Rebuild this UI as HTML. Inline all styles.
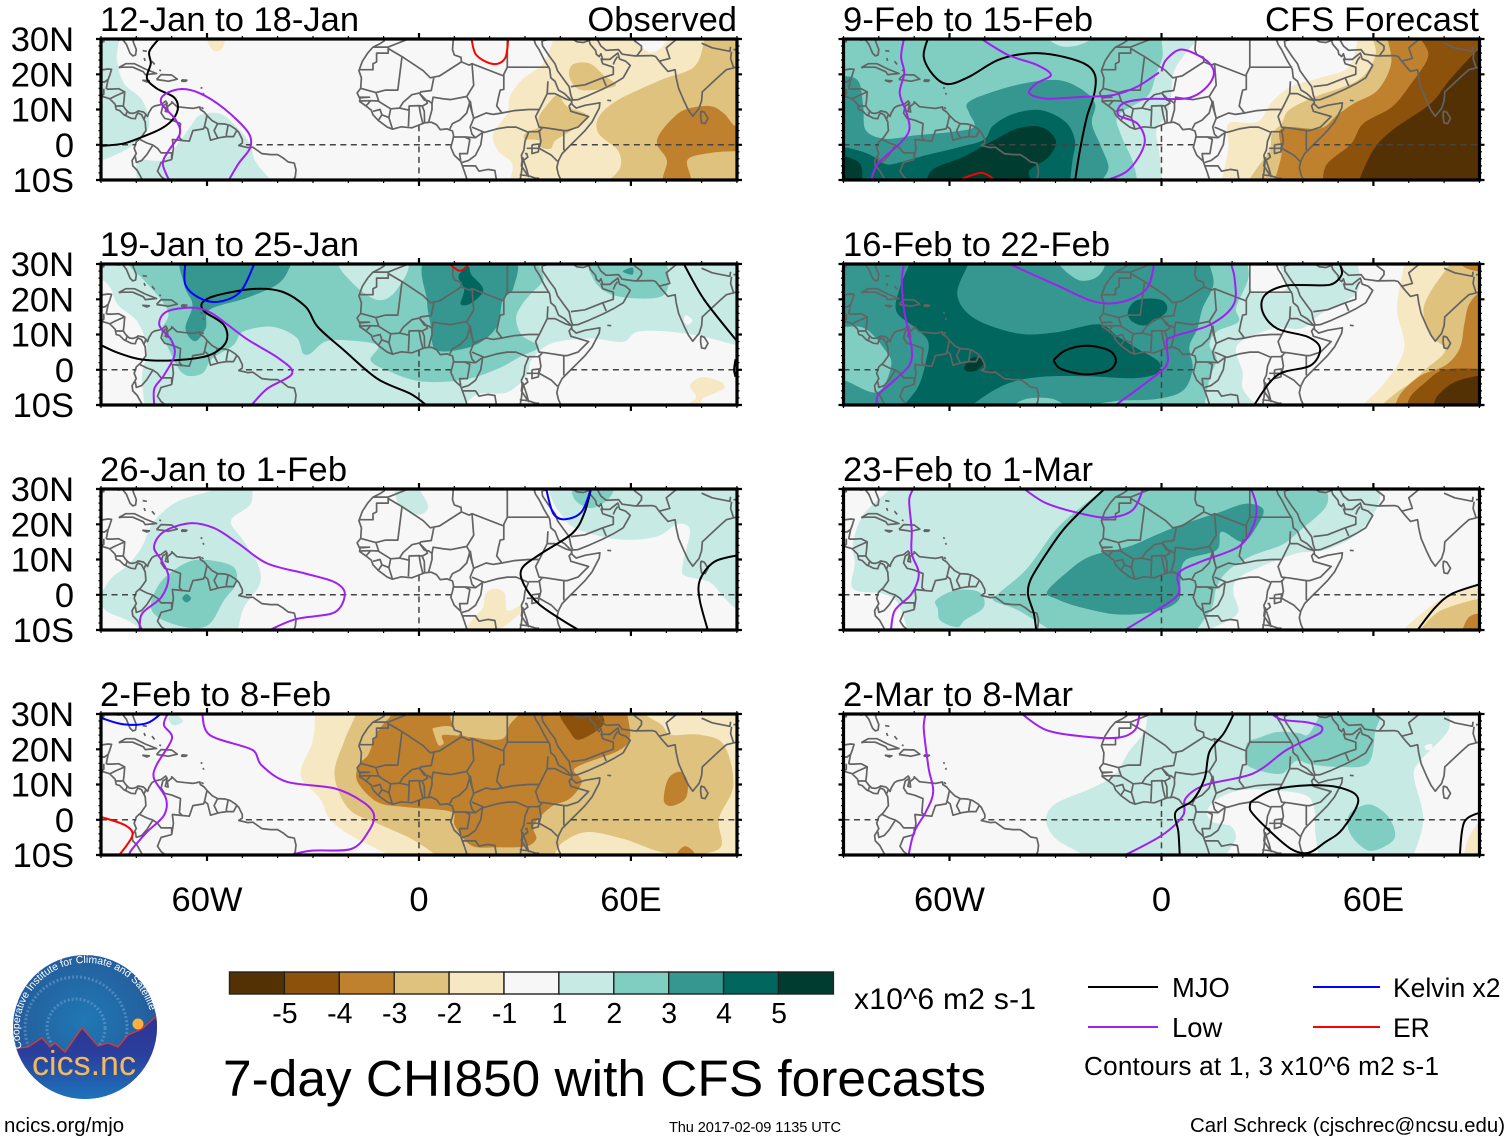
<!DOCTYPE html>
<html lang="en">
<head>
<meta charset="utf-8">
<title>7-day CHI850 with CFS forecasts</title>
<style>
html,body{margin:0;padding:0;background:#fff;}
svg{display:block;font-family:"Liberation Sans",sans-serif;font-kerning:none;}
</style>
</head>
<body>
<svg id="chart" xmlns="http://www.w3.org/2000/svg" width="1510" height="1142" viewBox="0 0 1510 1142">
<rect width="1510" height="1142" fill="#fff"/>
<defs id="defs">
<radialGradient id="logoSky" cx="50%" cy="45%" r="60%"><stop offset="0" stop-color="#1f78b4"/><stop offset="0.7" stop-color="#24619f"/><stop offset="1" stop-color="#2b4f9c"/></radialGradient>
<linearGradient id="logoLand" x1="0" y1="0" x2="0" y2="1"><stop offset="0" stop-color="#2e3192"/><stop offset="0.45" stop-color="#2a3f9c"/><stop offset="1" stop-color="#1b7ac0"/></linearGradient>
<clipPath id="logoClip"><circle cx="85" cy="1027" r="72"/></clipPath>
</defs>
<g id="panels"></g>

<g font-size="34.5" fill="#000">
<text x="100" y="31" textLength="259">12-Jan to 18-Jan</text>
<text x="737" y="31" text-anchor="end">Observed</text>
<text x="100" y="256" textLength="259">19-Jan to 25-Jan</text>
<text x="100" y="481" textLength="247">26-Jan to 1-Feb</text>
<text x="100" y="706" textLength="231">2-Feb to 8-Feb</text>
<text x="843" y="31" textLength="250">9-Feb to 15-Feb</text>
<text x="1265" y="31" textLength="214">CFS Forecast</text>
<text x="843" y="256" textLength="267">16-Feb to 22-Feb</text>
<text x="843" y="481" textLength="250">23-Feb to 1-Mar</text>
<text x="843" y="706" textLength="230">2-Mar to 8-Mar</text>
</g>

<g id="colorbar"></g>
<text x="854" y="1009" font-size="29.9" textLength="182">x10^6 m2 s-1</text>
<text x="223" y="1096" font-size="51.4" textLength="763">7-day CHI850 with CFS forecasts</text>

<g font-size="27.4">
<line x1="1088" x2="1158" y1="987" y2="987" stroke="#000" stroke-width="2"/>
<text x="1172" y="997">MJO</text>
<line x1="1088" x2="1158" y1="1027" y2="1027" stroke="#a020f0" stroke-width="2"/>
<text x="1172" y="1037">Low</text>
<line x1="1313" x2="1380" y1="987" y2="987" stroke="#0000ff" stroke-width="2"/>
<text x="1393" y="997" font-size="26.5">Kelvin x2</text>
<line x1="1313" x2="1380" y1="1027" y2="1027" stroke="#ff0000" stroke-width="2"/>
<text x="1393" y="1037" font-size="26.5">ER</text>
<text x="1084" y="1075" font-size="26.1" textLength="355">Contours at 1, 3 x10^6 m2 s-1</text>
</g>

<text x="4" y="1132" font-size="20.4">ncics.org/mjo</text>
<text x="669" y="1132" font-size="14.6" textLength="172">Thu 2017-02-09 1135 UTC</text>
<text x="1190" y="1132" font-size="20.4" textLength="315">Carl Schreck (cjschrec@ncsu.edu)</text>

<g>
<circle cx="85" cy="1027" r="72" fill="url(#logoSky)"/>
<g clip-path="url(#logoClip)">
<circle cx="76" cy="1028" r="51" fill="none" stroke="#6fa3d6" stroke-width="3" stroke-dasharray="2 2" opacity=".55"/>
<circle cx="76" cy="1028" r="29" fill="none" stroke="#6fa3d6" stroke-width="3" stroke-dasharray="2 2" opacity=".55"/>
<circle cx="138" cy="1024" r="5.5" fill="#fbb040"/>
<path d="M10 1050L18 1048L28 1047L42 1038L50 1047L55 1043L65 1052L82 1028L98 1046L108 1043L118 1047L128 1035L142 1029L160 1013L160 1105L10 1105Z" fill="url(#logoLand)"/>
<path d="M10 1050L18 1048L28 1047L42 1038L50 1047L55 1043L65 1052L82 1028L98 1046L108 1043L118 1047L128 1035L142 1029L160 1013" fill="none" stroke="#e5352b" stroke-width="1.3"/>
</g>
<path id="logoArc" d="M22 1048 A66 66 0 1 1 150 1011" fill="none"/>
<text font-size="10.4" fill="#fff"><textPath href="#logoArc">Cooperative Institute for Climate and Satellites</textPath></text>
<text x="84" y="1075" font-size="34" fill="#f3b95f" text-anchor="middle">cics.nc</text>
</g>
</svg>

<script>
/* ---------- scale data ---------- */
const levelColors = {'-5':'#543005','-4':'#8c510a','-3':'#bf812d','-2':'#dfc27d','-1':'#f6e8c3','0':'#f7f7f7','1':'#c7eae5','2':'#80cdc1','3':'#35978f','4':'#01665e','5':'#003c30'};
const colorbarLevels = [-5,-4,-3,-2,-1,0,1,2,3,4,5];
const colorbarLabels = ['-5','-4','-3','-2','-1','1','2','3','4','5'];
const lonTicks = [-60,0,60];
const lonLabels = ['60W','0','60E'];
const latTicks = [30,20,10,0,-10];
const latLabels = ['30N','20N','10N','0','10S'];
const lineColors = {mjo:'#000000',low:'#a020f0',kelvin:'#0000ff',er:'#ff0000'};
const equatorOcean = [[-90,-80],[-49,9],[43,90]];
const meridianSpan = [5.5,-10];

/* ---------- coastlines (lon,lat) ---------- */
const coastlines = [
[[-90,29.2],[-89.2,29.2],[-89.3,30.2],[-87,30.3],[-85,29.7],[-84,30],[-82.8,28.5],[-81.8,26],[-81,25.2],[-80.2,25.5],[-80,27],[-80.8,29],[-81.3,31]],
[[-90,21.2],[-88,21.5],[-87,21.4],[-87.6,19.5],[-88,18.5],[-88.5,16],[-88.2,15.8],[-87,15.8],[-85,15.9],[-83.3,15],[-83.5,12.5],[-83.7,11],[-83,10],[-82,9],[-81,8.9],[-80,9.2],[-79.5,9.6],[-78,9.3],[-77.3,8.6],[-76.8,8],[-76.5,9],[-75.6,10.5],[-74.8,11],[-73,11.4],[-71.7,12.4],[-71.3,11.8],[-71.5,10.8],[-71.8,9.5],[-71,9.3],[-71.2,10.8],[-70,11.8],[-70,12.2],[-68.5,10.8],[-66,10.5],[-64,10.3],[-62,10.7],[-61.9,10],[-60.8,9.3],[-60,8.3],[-58.5,6.8],[-57,6],[-55,5.9],[-53.5,5.5],[-52,4.5],[-51,3.5],[-50,1.5],[-50,0.5],[-51,-0.2],[-48.5,-0.8],[-47,-0.7],[-44.5,-2.5],[-42,-2.8],[-40,-2.8],[-38.5,-3.7],[-37,-4.9],[-35.3,-5.2],[-34.8,-7.2],[-35,-9],[-35.7,-10.5]],
[[-91,14],[-90,13.8],[-88,13.2],[-87.5,13],[-86,11.5],[-85.7,10],[-84.7,9.7],[-83.5,8.5],[-82.9,8.2],[-81.5,7.5],[-80.3,7.4],[-80,8.3],[-79.5,9],[-78.5,8.5],[-78,7.5],[-77.5,6.5],[-77.3,4],[-78.7,2],[-80,0.8],[-80.6,-1],[-80,-2.5],[-81.2,-4.5],[-81,-6],[-79.8,-7.2],[-78.8,-9],[-78,-10.5]],
[[-85,21.9],[-83,23],[-80.5,23],[-77.5,21.5],[-74.3,20.2],[-77.5,19.9],[-78,20.7],[-81,22],[-84,22],[-85,21.9]],
[[-74.3,18.5],[-73,19.9],[-70,19.8],[-68.4,18.6],[-71,18],[-72,18.2],[-74.3,18.5]],
[[-78.3,18.3],[-76.3,18.1],[-77,17.8],[-78.3,18.3]],
[[-67.2,18.4],[-65.7,18.3],[-66,18],[-67.1,18],[-67.2,18.4]],
[[-78.2,26.7],[-77,26.5]],[[-77.8,24.6],[-77.5,23.8]],[[-75.6,23.7],[-74.8,22.8]],[[-73.5,21.2],[-73,21]],
[[-61.8,16.2],[-61.3,16]],[[-61.1,14.7],[-60.9,14.2]],[[-61.6,10.6],[-61,10.2]],
[[-9.8,31],[-9.8,29.5],[-11,28.7],[-13,27.7],[-14.5,26],[-16,23.7],[-17,21],[-16.3,19],[-16.5,16],[-17.5,14.7],[-16.7,13],[-16.8,12.3],[-15,11],[-13.5,9.8],[-13,8.5],[-11.5,6.9],[-9,5],[-7.5,4.4],[-5,5.1],[-2,4.8],[0,5.6],[1.5,6.2],[3.5,6.4],[5,5.7],[6,4.3],[8,4.5],[9.5,3.9],[9.8,2.5],[9.5,1],[9,-0.7],[10,-3],[11.8,-4.7],[12.3,-6],[13,-8],[13.8,-10.5]],
[[32.5,31],[32.5,30],[33,28.5],[34,27],[35.5,24],[37,21.5],[37.3,19],[38.5,18],[39.5,15.5],[41.2,14.5],[43.2,12.5],[43.3,11.5],[44.5,10.4],[47,11.2],[51.2,11.9],[51,10.4],[49,6.5],[47,4],[45,2],[42.5,-0.5],[40.5,-2.5],[39.5,-4.5],[39,-6.5],[39.5,-8.5],[40.5,-10.7]],
[[34.8,29.5],[35,28],[37,25],[38.5,23],[39.2,21],[41,18.5],[42.5,16.5],[43,14],[43.5,12.7],[45,12.8],[48,14],[52,15.8],[55,17.3],[57.8,19],[59.8,22.5],[58.5,23.7],[56.8,24.3],[56.3,26],[55,25],[54,24.2],[52,24.2],[51.5,25.8],[51,25],[50.2,25.7],[50,26.7],[48.5,28.5],[48,29.9],[48.5,30],[50.5,29.8],[51.5,28],[53,26.8],[56.5,27],[57.5,25.7],[61,25.2],[66,25.3],[67,25],[68,23.7],[69,22.5],[70.5,20.8],[72.5,21.3],[72.8,19],[73.5,16],[75,12.5],[76.3,9.8],[77.5,8.1],[78.2,9],[79.3,10.3],[80,12.5],[80.2,15],[82,16.7],[85,19.5],[87,21.3],[89,21.8],[91,22.4]],
[[79.8,9.6],[80.8,9.2],[81.8,7.5],[81,6],[80,6.2],[79.7,8],[79.8,9.6]],
[[53.3,12.6],[54.4,12.5]],
[[32,0],[34,0.2],[33.8,-2],[32,-2.5],[32,0]],
[[29.3,-3.5],[30.5,-7],[31,-9],[30.3,-8],[29,-6],[29.3,-3.5]],
[[34.3,-9.7],[34.8,-11]]
];

/* ---------- political borders (lon,lat) ---------- */
const borders = [
[[-13,27.7],[-8.7,27.7],[-3,30],[-2,31]],[[-17,21.3],[-13,21.3],[-13,23],[-12,23.5],[-12,26],[-8.7,26],[-8.7,27.7]],
[[-8.7,27.3],[-4.8,25],[-6,15.5],[-9.5,15.5],[-12.2,14.8],[-16.5,16]],
[[-4.8,25],[1.2,21],[3.2,19],[4.2,19.2],[5.8,19.5],[12,23.5],[11.9,24.8],[10,25.5],[9.5,27],[9.8,31]],
[[4.2,19],[3.5,15.4],[0.5,15],[0.2,14.5],[1.5,12.7],[2.8,12.4],[3.7,11.7],[4,13.5],[7,13],[9,12.8],[13.5,13.7],[15.5,16.9],[15,23],[14.2,22.6],[12,23.5]],
[[15,23],[24,19.5],[24,15.7],[23,15.5],[22.5,13.5],[22,11],[23.5,9],[21,8.6],[19,9],[15.5,7.5],[14.5,11],[14.2,12.5],[13.5,13.7]],
[[25,31],[25,22],[24,20],[24,19.5]],[[25,22],[37,22]],
[[36.5,18],[36.3,14.5],[34.3,10.5],[33,8],[34,5],[35.8,4.8],[41,4],[42,4],[45,5],[48,8],[43,9.5],[42.5,11],[43.3,12]],
[[36.5,14.5],[38.5,14.5],[41.5,13],[43.2,12.5]],
[[23.5,9],[27,9.7],[31,10],[33,10],[34,10]],
[[15,5],[18.5,3.5],[22,4.5],[25,5],[27.5,5],[31,3.5],[30,1],[29.7,-1.5],[29,-3],[29.3,-5],[29,-8],[28.5,-10.5]],
[[31,3.7],[34,3.7],[35,5]],[[34,4.2],[34.5,1],[34,-1],[37.5,-3],[39.2,-4.7]],[[41,4],[41,-1.6]],[[30.5,-1],[34,-1]],
[[30,-2.5],[30.5,-2.5],[30.8,-3.5],[29.5,-4.5]],[[39.5,-10.5],[35,-11.5]],[[28.5,-8.5],[31,-8.8],[33,-9.5],[34,-9.5]],
[[12.2,-6],[13,-6],[16,-6],[17,-7.5],[19.5,-7],[21.5,-7.3],[22,-10.5]],
[[9.8,2.2],[13,2.2],[16,2],[18,3.5]],[[12.2,-5],[14,-4.5],[16,-3],[17.5,0],[18,3.5]],
[[13,2.2],[14.4,1.5],[13.7,-2.5],[11.5,-2.5],[11.8,-4.5]],
[[8.7,4.5],[9.5,6],[11.5,7],[13.5,9],[14.5,12.5]],[[14.5,12.5],[15,9.5],[15.5,7.5],[14.5,5],[15,3],[16,2]],
[[2.7,6.3],[3.7,10],[3.7,11.7]],[[1.6,6.2],[1.5,9.5],[0.9,11]],[[1.1,6],[0.5,8.5],[0,11.2]],
[[-3,5.2],[-2.8,9.5],[-2.8,11],[0,11.1],[1,11],[2.4,11.8],[2,12.7],[0.2,14.5]],
[[-5.5,10.4],[-4.5,12],[-2,14.2],[0.2,14.7]],[[-2.8,9.8],[-5.5,10.4],[-8,10.2],[-8.5,7.7],[-7.5,4.4]],
[[-8,10.2],[-11.4,12.3]],[[-13.7,12.5],[-11.4,12.4],[-12.2,14.8]],[[-13,9.5],[-11,10],[-10.5,8.5],[-11.5,6.9]],[[-10.5,8.5],[-8.5,7.7]],
[[-16.8,13.5],[-14,13.5],[-16.8,13.3]],[[-16.8,12.4],[-13.7,12.5],[-15,11]],
[[35,29.5],[37,30],[39,31]],[[43,16.5],[47,17],[52,19],[55,20],[55,22],[52,23],[51.5,24.5]],[[52,19],[53,16.7]],[[56.2,25],[55.5,24],[55,22.8]],
[[61.5,25],[63,27],[63,28],[61,29.5],[61,31]],[[68,23.7],[71,24.5],[70,27.5],[73,30],[74,31]],
[[80,28.8],[83,27.5],[88,26.5],[88.2,27.8]],[[88.5,26.4],[88.2,24.5],[89,22]],[[89,27],[92,27]],[[48.5,29.7],[46.5,29],[44.7,29.2],[42,31]],
[[-71.3,11.8],[-72.5,11],[-73,9],[-72,7.5],[-70,7],[-67.5,6],[-67.8,2],[-67,1.2]],
[[-79,1.5],[-77,0.5],[-75.3,-0.1],[-74,-1],[-73,-2.3],[-70,-2.3],[-70,-4.2]],[[-67,1.2],[-69.8,1.5],[-69.5,-1],[-70,-4.2]],
[[-80.3,-3.4],[-80,-5],[-78.5,-4.5],[-77,-2.8],[-75.3,-0.1]],[[-70,-4.2],[-73,-5],[-74,-7.5],[-73,-9],[-70.5,-11]],
[[-67,1.2],[-65,1],[-64,4],[-61,4.5],[-60.7,5.2],[-60,8.3]],[[-60.7,5.2],[-59.8,4.5],[-59,1.3],[-56.5,2]],[[-57,6],[-58,4],[-57,2]],
[[-54,5.7],[-54.5,3],[-54.5,2.3]],[[-56.5,2],[-54.5,2.3],[-52.5,2.3],[-51.6,4]],[[-70,-11],[-65.5,-10]],
[[-92,14.5],[-90,17.8],[-89,17.8],[-88,18.5]],[[-89.2,15.9],[-89.2,14.3],[-90,13.8]],[[-83.3,15],[-86,13.8],[-87.5,13]],
[[-83.7,11],[-85.7,11]],[[-82.6,9.5],[-83,8.2]],[[-77.3,8.6],[-77.8,7.3]]
];

/* ---------- filled CHI850 contours: [level, [[lon,lat],...]] ---------- */
const jan12Fills = [
[1,[[-95,32],[-85,32],[-85.2,28],[-85.5,24],[-83.5,17.4],[-78.4,12.7],[-76.3,6],[-78.4,2.2],[-82.4,-1.1],[-90,-4.5],[-95,-5]]],
[1,[[-78.4,-4.3],[-72.2,-4.3],[-68.2,0.3],[-64.8,5],[-62,8.4],[-56.6,8.9],[-52.5,6],[-47.8,0.3],[-46.4,-4.5],[-41.6,-10.5],[-41,-12],[-78,-12],[-80,-6]]],
[-1,[[38,32],[38,30],[35.2,23.1],[29.1,18.4],[25.7,13.6],[25,8.9],[21,3.1],[22.3,-1.6],[26.4,-5.4],[25.7,-10.5],[26,-12],[95,-12],[95,32]]],
[0,[[61.8,31],[63.8,27],[67.2,26.5],[70.6,31]]],
[-1,[[-60,31],[-58.5,27],[-56,27],[-55,31]]],
[-2,[[80.8,32],[80.8,30],[78,22.2],[68.6,18.4],[56.3,12.7],[50.9,7.9],[50.9,3.1],[56.3,-1.6],[57,-6.4],[53.6,-10.5],[54,-12],[95,-12],[95,32]]],
[-2,[[43.4,22.7],[48.2,23.1],[52.2,19.8],[55.6,16.7],[46.1,15.5],[42.7,18.9]]],
[-2,[[39.3,14.1],[42,10.8],[47.5,8.4],[44,4.6],[38.6,1.2],[37.3,-1.1],[34.6,-0.7],[33.9,1.2],[29.8,1.7],[30.5,3.6],[33.9,5],[33.9,7.9],[36.6,11.7]]],
[-3,[[67.9,2.7],[71.3,7],[75.4,10],[82.2,11],[86.3,8.9],[90,5],[97,4],[97,-2],[90,-1.8],[82,-2.4],[76,-4.3],[76.7,-10.5],[69.3,-10.5],[70.2,-4.5],[67.5,-0.2]]]
];
const jan12Lines = [
['mjo',[[-73.2,30.5],[-76.3,26.5],[-75.9,23.1],[-77,18.9],[-74.3,16],[-69.5,13.6],[-68.2,10.8],[-69.5,7.4],[-72.9,4.6],[-78.4,2.2],[-83.8,0.3],[-90,-0.3]]],
['low',[[-70.5,-10.5],[-72.5,-5.4],[-70.8,-1.6],[-67.7,3.1],[-68.8,7],[-72.9,11.7],[-72.2,14.1],[-67.5,15.8],[-62,14.6],[-55.2,10.3],[-48.4,3.6],[-47.7,-0.7],[-51.1,-5.4],[-54.1,-10.5]]],
['er',[[14.8,30.5],[16.2,25.5],[21,22.9],[24.4,24.6],[25.3,30.5]]]
];

const jan19Fills = [
[1,[[-95,32],[95,32],[95,7],[90,7],[80.8,9.3],[71.3,10.8],[61.8,10.8],[57.7,7.9],[48.2,8.9],[37.3,7.4],[31.8,2.7],[30.5,-1.6],[25,-6.4],[16.9,-6.9],[12.8,-10.2],[12.8,-12],[-77.7,-12],[-77.7,-10],[-78.4,-1.6],[-77,6],[-79.7,13.6],[-85.2,18.4],[-87.2,23],[-90,25.5],[-95,25]]],
[0,[[75.6,15.5],[77.4,14],[76,12.7],[75,14]]],
[2,[[-82.4,32],[-82.4,30],[-78.4,26],[-72.9,19.8],[-70.9,15.5],[-72.9,10.8],[-70.9,6],[-66.8,-1.1],[-61.4,-1.1],[-58.6,3.1],[-52.5,7],[-49.8,10.8],[-41.6,12.2],[-34.8,9.3],[-32.8,4.6],[-30.7,4.6],[-26.7,7.9],[-21.2,8.4],[-11.7,7],[-13.7,2.7],[-9,-0.2],[0.5,-3.3],[12.8,-2.8],[22.3,0.3],[28.4,3.6],[33.9,6.5],[29.1,9.8],[27.5,14.6],[29.1,18.4],[31.8,21.7],[35.2,25.5],[33.9,30],[33.9,32]]],
[1,[[-21.9,31],[-19.2,25],[-11.7,19.8],[-6.3,22.7],[-3.8,31]]],
[2,[[48.8,31],[49.5,25.5],[53.6,21.7],[60.4,20.3],[68.6,20.8],[70.6,25],[68.6,31]]],
[3,[[-66.4,32],[-66.4,24],[-64.1,18.4],[-66.1,11.7],[-63.4,8.1],[-60.4,11.7],[-59.3,17],[-48.4,20.5],[-39.6,24.6],[-36.2,30],[-36,32]]],
[3,[[2.6,32],[2.3,19.3],[3.3,12.7],[4.6,5.8],[11.4,5.7],[17.6,7.9],[22.3,12.7],[23.7,19.8],[26.7,23.1],[26.4,32]]],
[3,[[57.7,27.9],[60.4,29],[60.4,27]]],
[4,[[11.2,26.5],[12.8,22.7],[11.8,18.6],[14.8,18.9],[18.2,22.7],[14.8,27],[13.9,29.3]]],
[-1,[[76.7,-4.5],[80.1,-2.1],[85.6,-3.5],[86.3,-5.4],[80.1,-8.3],[79.5,-10.5],[75,-10.5],[78.4,-7.9]]]
];
const jan19Lines = [
['mjo',[[-90,7],[-85.2,4.8],[-78.4,2.9],[-68.9,2.7],[-59.4,4.1],[-54.6,7.9],[-55.2,12.7],[-60.7,16.5],[-61.4,18.9],[-58,20.9],[-47.1,22.9],[-38.9,22.2],[-32.1,17.9],[-28.7,12.2],[-21.2,5.5],[-11.7,-2.6],[-2.2,-6.9],[2.6,-10.5]]],
['mjo',[[74.7,30.5],[80.8,19.8],[90.2,7.9]]],
['mjo',[[89.6,3],[89.2,0],[89.6,-2]]],
['low',[[-74.9,-10.5],[-74.9,-5.4],[-72.2,-1.6],[-69.2,4.1],[-70.1,8.4],[-73.5,12.7],[-71.4,16.5],[-64,17.6],[-58.6,16],[-49,8.9],[-39.5,3.1],[-35.9,-1.1],[-43,-5.4],[-47.8,-10.5]]],
['kelvin',[[-66.1,30.5],[-66.1,24.1],[-62,20.3],[-56.6,19.3],[-50.5,22.2],[-46.4,30.5]]],
['er',[[8,30.5],[11.4,28.1],[13.5,29.3],[14,30.5]]]
];

const jan26Fills = [
[1,[[-57.3,32],[-57.3,30],[-68.2,26.5],[-75,20.8],[-78.4,13.6],[-82.4,8.4],[-87.2,4.6],[-90,-0.7],[-88.6,-4.5],[-82.4,-7.3],[-78.4,-10.2],[-78,-12],[-51.2,-12],[-51.2,-10],[-49.5,-3.5],[-45,3.1],[-45.7,8.9],[-49.8,15.5],[-53.2,21],[-47.8,25.5],[-47.1,30],[-47,32]]],
[2,[[-75.4,-0.7],[-72.2,4.6],[-65.4,9.3],[-59.3,9.8],[-52.5,7.9],[-51.8,3.1],[-55.2,-1.6],[-59.3,-8.3],[-64.8,-9.4],[-72.2,-7.3],[-75.6,-4.5]]],
[3,[[-67,-1],[-65.8,0.2],[-64.5,-1],[-65.8,-2.2]]],
[1,[[-6.3,31],[-5.6,25.5],[-0.1,22.7],[2.6,25],[0.5,29.3],[0,31]]],
[1,[[37.3,32],[37.3,27.9],[40,23.1],[44.1,18.9],[56.3,15.7],[67.2,16.5],[73.3,20.1],[76.7,18.4],[74.7,8.9],[75.1,5.5],[82.2,3.6],[86.3,-0.7],[90,-4],[97,-6],[97,32]]],
[2,[[44.1,27],[48.2,24.6],[52.2,26],[54.9,29],[54.2,31],[44,31]]],
[-1,[[18.9,0.3],[18.2,-3.5],[16.2,-5.9],[13.5,-10.2],[21.6,-10.2],[28.5,-5.4],[29.1,-3],[25,-4.5],[24.3,0.3],[21.6,1.7]]]
];
const jan26Lines = [
['low',[[-79,-10.5],[-78.4,-5.4],[-72.9,-0.7],[-70.9,5],[-72.9,9.8],[-75,13.6],[-72.2,17.9],[-64.8,20.3],[-58,18.9],[-51.2,14.6],[-43,8.9],[-32.1,6],[-23.9,3.6],[-21,0.3],[-23.9,-5],[-34.8,-6.9],[-43.3,-10.5]]],
['mjo',[[48.8,30.5],[46.8,23.1],[43.4,17.4],[34.6,11.7],[29.1,7.4],[29.8,2.7],[33.9,-2.6],[40.7,-7.3],[46.1,-10.5]]],
['mjo',[[90.2,11.2],[83.5,9.3],[79.5,4.1],[79.5,-1.6],[81.9,-10.5]]],
['kelvin',[[35.9,30.5],[38,23.1],[41.4,21.4],[46.1,23.6],[48.8,30.5]]]
];

const feb2Fills = [
[-1,[[-29.4,32],[-29.4,30],[-30.1,22.2],[-33.5,12.7],[-28,6],[-25.3,0.3],[-19.2,-4.5],[-8.3,-10.2],[-8,-12],[95,-12],[95,32]]],
[-2,[[-17.8,32],[-17.8,30],[-21.2,22.2],[-23.9,12.7],[-19.9,3.1],[-11.7,-1.1],[-2.2,-5.4],[5.3,-10.5],[5.3,-12],[37,-12],[38.5,-9.5],[40.7,-6.4],[47.5,-3.5],[57.7,-5.4],[71.3,-9.7],[84.9,-8.3],[84.9,0.3],[89,9.8],[86.3,21.2],[79.5,24.1],[71.3,24.1],[68.6,27],[63.8,30],[63.8,32]]],
[-3,[[-7.6,32],[-7.6,30],[-11.7,25],[-14.4,18.4],[-17.1,15.5],[-17.4,10.8],[-11.7,5],[-3.5,3.6],[9.4,2.2],[10.1,-1.6],[14.8,-7.3],[22.3,-7.8],[30.5,-7.5],[33.2,-5.4],[32.5,-1.6],[37.3,3.6],[42.7,6],[46.1,10.8],[44.1,14.6],[56.3,19.5],[59.7,23.1],[59,30],[59,32]]],
[-2,[[10.1,32],[10.7,25],[16.9,23.1],[23.7,23],[25.7,27],[28.4,30],[28.4,32]]],
[-2,[[3.9,25.5],[5.5,21.2],[7,21.7],[6.7,24],[11.4,24],[8.7,26.5],[4,26]]],
[-3,[[69.3,5.5],[70.6,11.7],[74,13.6],[76,10.8],[75.4,6],[71.3,3.9]]],
[-3,[[73.3,-9.2],[75.4,-7.5],[77.8,-9.2],[76.7,-10.8],[74,-10.8]]],
[-4,[[40,31],[42.7,25],[45.4,22.7],[52.2,27],[50.2,31]]],
[1,[[-70.9,28.9],[-68.9,29.8],[-66.8,27.9],[-69.5,26.8]]]
];
const feb2Lines = [
['kelvin',[[-90,28.9],[-83.8,27.1],[-77,27.4],[-72.6,30.5]]],
['low',[[-70.9,30.5],[-72.2,26.9],[-69.9,23.1],[-74.3,15.5],[-75,11.7],[-71.6,6],[-72.2,1.2],[-77,-3.5],[-81.8,-9.2],[-81.5,-11]]],
['low',[[-61.4,30.5],[-59.3,24.1],[-47.1,19.8],[-44.6,15.5],[-37.5,10.8],[-23.9,8.9],[-15.8,5],[-12.7,1.2],[-14.4,-3.5],[-19.2,-8.3],[-30.7,-8.8],[-38.2,-10.5]]],
['er',[[-90,0.8],[-83.1,-1.6],[-81.1,-4.5],[-85.2,-10.5]]]
];

const feb9Fills = [
[1,[[-95,32],[10.2,32],[10.2,30],[6.1,25],[3.4,20.3],[2.7,13.6],[1.4,8.4],[-1.4,4.1],[-0.7,-1.6],[0.3,-10.5],[0.3,-12],[-95,-12]]],
[2,[[-95,32],[0,32],[0,30],[0.3,25],[-1.4,20.3],[-4.1,13.6],[-12.2,8.4],[-11.6,3.1],[-8.2,-4.5],[-6.8,-10.5],[-6.8,-12],[-95,-12]]],
[1,[[-32,31],[-28.6,28],[-23,28.4],[-19.7,31]]],
[3,[[-89.8,19.5],[-85.7,17.9],[-84.4,10.8],[-83.7,4.1],[-78.2,1.7],[-69.4,2.7],[-59.9,3.6],[-53.1,5],[-54.4,8.9],[-55.1,11.5],[-51.7,13.6],[-40.8,17],[-29.9,18.4],[-23.1,16],[-18.8,11.7],[-19.7,6],[-17,-0.7],[-15,-6.4],[-17,-10.5],[-17,-12],[-95,-12],[-95,19]]],
[4,[[-89.8,-0.7],[-83,-2.6],[-78.4,-5.4],[-75.6,-5.4],[-66.8,-3],[-57.3,-0.7],[-50.3,1.4],[-47.6,5.5],[-41.5,8.9],[-34,9.8],[-27.2,6.5],[-24.5,1.2],[-25.2,-4.5],[-25.9,-10.5],[-26,-12],[-95,-12],[-95,-0.7]]],
[5,[[-66.7,-10.5],[-64.6,-6.9],[-55.8,-3.3],[-47.6,1.2],[-40.8,4.6],[-34,5],[-29.9,1.2],[-32,-3.5],[-37.4,-7.3],[-37.4,-10.8],[-66.7,-10.8]]],
[5,[[-95,-3],[-89,-3.5],[-85,-6],[-86,-12],[-95,-12]]],
[-1,[[55.5,32],[55.5,30],[53,22],[44.9,19],[36.7,16.5],[31.3,12.2],[27.2,6.5],[19,6],[19,-0.7],[17,-10.5],[17,-12],[95,-12],[95,32]]],
[-2,[[59.9,32],[59.9,30],[60.5,25],[55.8,18.4],[43.5,13.6],[36,9.8],[34,6],[31.3,3.1],[30.6,-1.6],[27.2,-6.4],[24.5,-10.5],[24.5,-12],[95,-12],[95,32]]],
[-3,[[64,32],[64,30],[65,23],[61.2,15.5],[54.4,11.7],[49.7,8.4],[44.9,4.6],[34,4.6],[34,-2.6],[32,-10.5],[32,-12],[95,-12],[95,32]]],
[-4,[[73.5,32],[73.5,30],[75.5,25],[70.7,17.4],[65.3,10.8],[57.1,6],[53.7,0.3],[46.9,-5.4],[45.6,-10.5],[45.6,-12],[95,-12],[95,32]]],
[-5,[[95,28],[89.8,27],[81.6,18.4],[76.2,11.7],[65.3,4.1],[59.9,-1.6],[55.8,-10.5],[55.8,-12],[95,-12]]]
];
const feb9Lines = [
['mjo',[[-66,30.5],[-67.3,25],[-64.6,19.8],[-60.5,17.2],[-54.4,19.3],[-46.3,24],[-38.1,25.9],[-29.9,25.4],[-21.8,23],[-18.8,19.8],[-19,14.5],[-21.1,7.9],[-23.1,-1.6],[-24.5,-10.5]]],
['low',[[-72.8,30.5],[-73.7,25],[-72.8,20.3],[-74.1,14.6],[-72.1,8.9],[-71.4,4.1],[-74.1,0.3],[-80.3,-5.4],[-82.3,-10.5]]],
['low',[[-51.7,30.5],[-43.5,25.5],[-35.4,22.7],[-31.3,19.8],[-35.4,17.4],[-37.4,14.6],[-32.7,13.1],[-21.8,13.6],[-13.6,14.1],[-6.8,16.5],[-0.7,20.5]]],
['low',[[-17,-10.5],[-9.5,-7.3],[-4.8,0.3],[-6.8,6],[-12.2,8.4],[-10.9,11.7],[-4.1,13],[8.2,13.4],[14.3,18.4],[13.6,23.1],[6.1,27],[1.4,24.2],[0,20.8]]],
['er',[[-56.5,-9.7],[-51,-8],[-47.6,-9.7],[-47.6,-10.5]]]
];

const feb16Fills = [
[1,[[-95,32],[55.5,32],[55.5,30],[56.1,26],[54.7,21.1],[45.2,15.9],[39.7,11.7],[31.6,11.7],[21.5,7],[23,-0.7],[23,-5.4],[27,-10.5],[27,-12],[-95,-12]]],
[0,[[24.8,32],[25.2,23.1],[29.9,21.7],[35.4,23.1],[33.3,30],[33.3,32]]],
[2,[[-95,32],[24.5,32],[24.5,30],[24.5,25.5],[21.1,17.4],[21.8,13.6],[15.6,10.8],[13.6,7],[15.6,3.1],[13.6,-2.6],[12.2,-10.2],[12.2,-12],[-95,-12]]],
[3,[[-95,32],[13.6,32],[13.6,30],[14.7,24.1],[11.6,17.4],[10.2,11.7],[7.9,6.5],[8.8,0.3],[6.1,-5.9],[-1.4,-8.3],[-12.2,-8.8],[-21.8,-10.5],[-22,-12],[-95,-12]]],
[2,[[-29,31],[-23.6,25.5],[-18,26.5],[-16.7,31]]],
[2,[[-90,12.2],[-83.9,11.7],[-78.5,6],[-76.5,1.2],[-80.5,-6.4],[-90,-3],[-96,-3],[-96,12]]],
[2,[[-42.5,-10.5],[-38,-8.2],[-31,-8.2],[-27,-10.5],[-27,-12],[-42.5,-12]]],
[4,[[-71.4,32],[-71.4,30],[-74.1,23.1],[-75,16.5],[-69.4,11.7],[-66,7.9],[-66.7,2.2],[-68.7,-4.5],[-72.8,-10.2],[-72.8,-12],[-53,-12],[-53.7,-10.2],[-44.9,-4.5],[-35.4,-2.1],[-21.8,-1.8],[-8.2,-2.4],[-1.4,-1.1],[-0.7,2.2],[-6.8,6],[-12.2,9.3],[-17.7,12.9],[-29.9,10.6],[-40.8,10.3],[-53,14.6],[-57.8,21.2],[-55,29.3],[-54.4,30],[-54,32]]],
[4,[[-9.5,16.5],[-6.8,19.8],[0,19.8],[1.4,16.5],[-4.1,12.7],[-8.2,13.6]]],
[5,[[-55.8,0.8],[-53.1,3.6],[-50.3,2.2],[-52.4,-0.2],[-55.1,-0.4]]],
[-1,[[68.7,32],[68.7,30],[66.7,17.4],[68.7,6],[63.3,-3.5],[56.5,-10.5],[56.5,-12],[95,-12],[95,32]]],
[-2,[[81.6,32],[81.6,30],[76.2,22.2],[74.1,16.5],[76.2,9.8],[80.3,5.5],[75,0.3],[70.7,-3.5],[66.7,-6.4],[61.9,-10.5],[62,-12],[95,-12],[95,32]]],
[-3,[[95,22],[90.5,22.2],[87,18.4],[85.7,12.7],[84.4,6],[80.3,1.2],[73.5,-1.6],[68,-6.4],[66,-10.5],[66,-12],[95,-12]]],
[-3,[[84,31],[87,28.5],[92,28],[92,31]]],
[-4,[[95,0.3],[90.5,0.3],[80,0],[74.8,-3.5],[70.7,-7.3],[69.4,-10.5],[69.4,-12],[95,-12]]],
[-5,[[95,-1.6],[90.5,-1.6],[83,-3.5],[78.2,-7.3],[76.9,-10.5],[77,-12],[95,-12]]]
];
const feb16Lines = [
['low',[[-72.8,30.5],[-73.5,25],[-72.8,16.5],[-70.7,6],[-71.4,1.2],[-76.2,-3.5],[-80.3,-7.3],[-80.5,-10.5]]],
['low',[[-44.2,30.5],[-29.9,24.1],[-19,19.3],[-10.9,19.3],[-4.1,23.1],[-2,30.5]]],
['low',[[-13.6,-10.5],[-4.1,-3.5],[1.4,1.2],[1.6,6],[2,8.9],[13.6,12.7],[20.4,18.4],[20.7,25.9],[19.5,30.5]]],
['mjo',[[-30.6,2.7],[-27.2,5.5],[-21.1,6.8],[-14.9,5.5],[-12.9,2.7],[-14.9,-0.2],[-21.8,-1.3],[-28.6,0.3],[-30.6,2.7]]],
['mjo',[[50.3,30.5],[51,27],[47.6,24.1],[35.4,23.9],[29.3,21.2],[28.6,16.5],[32.7,11.7],[41.5,9.3],[44.9,6],[42.2,1.2],[32.7,-1.6],[25.9,-10.5]]]
];

const feb23Fills = [
[1,[[62,32],[61.9,30],[61.2,25],[55.1,17],[46.3,12.7],[38.1,11.7],[25.9,7],[21.1,4.1],[20.4,0.3],[21.8,-4.5],[19,-7.3],[12.9,-10.2],[13,-12],[-72,-12],[-72.1,-9.2],[-74.8,-2.1],[-78.9,0.3],[-87.3,1.7],[-86.8,8.9],[-87.3,14.6],[-84.4,22.7],[-76.9,30],[-77,32]]],
[2,[[-16.3,32],[-16.3,30],[-23.1,24.6],[-29.9,18.4],[-38.1,7.4],[-45.6,0.8],[-47.6,-1.6],[-40.8,-4.3],[-32.7,-9.2],[-29.9,-10.7],[-29,-12],[9.5,-12],[9.5,-10.7],[14.3,-3.5],[15.6,2.2],[19,7],[25.9,11.2],[34,14.1],[38.8,17.9],[46.3,24.6],[46.9,28.9],[43.5,30],[43.5,32]]],
[2,[[-63.9,-1.6],[-58.5,1.2],[-51.7,0.8],[-50.3,-3.5],[-55.8,-7.3],[-57.8,-9.2],[-62.6,-7.3],[-63.3,-4]]],
[3,[[-32.4,0.8],[-27.2,6],[-20.4,10.8],[-9.5,13.6],[-1.4,17],[5.4,19.8],[15.6,23.1],[23.8,25.8],[28.8,24.3],[27.2,19.8],[23.1,15],[17,17.9],[15.6,12.7],[6.8,9.8],[5.4,4.1],[4.8,-1.6],[-1.4,-4.7],[-12.2,-5.6],[-23.1,-3.5],[-29.9,-1.1]]],
[-1,[[68,-10.5],[73.5,-5.4],[81.6,0.3],[90.5,2.7],[95,3],[95,-12],[68,-12]]],
[-2,[[72.8,-10.5],[77.6,-5.4],[83,-3],[90.5,-1],[95,-1],[95,-12],[72.8,-12]]],
[-3,[[85,-10.5],[87,-6.4],[90.5,-5.2],[95,-5],[95,-12],[85,-12]]]
];
const feb23Lines = [
['low',[[-70,30.5],[-71.4,27],[-70.7,18.4],[-70.7,11.7],[-68.7,6],[-70.7,0.3],[-75.5,-4.5],[-76.6,-10.5]]],
['low',[[-39.5,30.5],[-32.7,26],[-23.1,23.1],[-15,21.9],[-8.2,24],[-5,30.5]]],
['low',[[-11.2,-10.5],[-1.4,-4.5],[4.8,0.3],[4.8,6],[10.9,9.3],[21.8,13.6],[25.9,19.3],[26.9,25],[25.2,30.5]]],
['mjo',[[-15.6,30.5],[-22.4,24.1],[-28.6,17.4],[-36.7,5],[-37.8,0.3],[-36.1,-5.4],[-35.4,-10.5]]],
['mjo',[[72.1,-10.5],[77.6,-3.5],[82.3,0.3],[90.5,3.1]]]
];

const mar2Fills = [
[1,[[-4.1,32],[-4.1,30],[-4.8,25],[-9.5,18.9],[-12.9,13.1],[-19,9.3],[-29.9,4.6],[-32.7,0.1],[-29.9,-5.4],[-21.8,-10.2],[-21.8,-12],[71.4,-12],[71.4,-10.2],[74.1,0.3],[71.4,12.7],[73.5,17],[81,25],[81.6,30],[81.6,32]]],
[0,[[12.9,2.2],[15.6,5.8],[22.4,8.4],[31.3,8.4],[40.8,7],[43.3,3.1],[43.5,-3.5],[44.6,-10.5],[44.6,-12],[18.2,-12],[18.2,-10.2],[21,-5.4],[19.6,-1.8],[14.7,-0.7]]],
[0,[[74.6,21],[76.5,21.5],[76.5,20],[75,19.8]]],
[2,[[24.2,21.7],[27.2,23.1],[32.7,24.9],[38.8,24.6],[41.5,24.1],[44.2,28.4],[46.3,31],[61.2,31],[60.5,25],[58.5,16],[50.3,15],[42.2,15.7],[38.1,16.7],[34,13.1],[27.2,14.1],[23.8,16.3]]],
[2,[[53,1.2],[55.8,3.6],[59.9,4.1],[64.6,0.3],[65.9,-5.4],[59.9,-8.8],[55.8,-6.9],[53,-3]]],
[-1,[[85.5,-10.5],[87,-5],[90.5,-0.2],[95,0],[95,-12],[85.5,-12]]]
];
const mar2Lines = [
['low',[[-66.7,30.5],[-67.3,26],[-65.9,14.6],[-64.6,7.9],[-66.7,2.2],[-70,-3.5],[-71.7,-10.5]]],
['low',[[-40.1,30.5],[-32.7,25.5],[-21.8,23.6],[-12.2,23.3],[-7.5,25.5],[-6.1,30.5]]],
['low',[[-11.2,-10.5],[0,-4.5],[6.1,1.2],[6.8,6],[12.2,9.8],[25.9,13.1],[35.4,19.8],[44.9,24.6],[45.2,26.5],[40.8,27.7],[34,28.4],[30.6,30.5]]],
['mjo',[[20.7,30.5],[17.7,24.6],[13.6,19.3],[12.2,11.7],[8.8,5.5],[4,2.2],[4.8,-3.5],[5.2,-10.5]]],
['mjo',[[25.2,5],[31.3,8.4],[41.8,9.8],[51.3,8.9],[55.7,5.5],[51.3,-2.6],[46.3,-6.4],[41.5,-9.4],[36.7,-8.3],[30,-2.6],[25.2,2.6],[25.2,5]]],
['mjo',[[84.4,-10.5],[85.7,-0.7],[90.5,2.2]]]
];

const panelList = [
{key:'12-jan-to-18-jan',col:0,row:0,fills:jan12Fills,lines:jan12Lines},
{key:'19-jan-to-25-jan',col:0,row:1,fills:jan19Fills,lines:jan19Lines},
{key:'26-jan-to-1-feb',col:0,row:2,fills:jan26Fills,lines:jan26Lines},
{key:'2-feb-to-8-feb',col:0,row:3,fills:feb2Fills,lines:feb2Lines},
{key:'9-feb-to-15-feb',col:1,row:0,fills:feb9Fills,lines:feb9Lines},
{key:'16-feb-to-22-feb',col:1,row:1,fills:feb16Fills,lines:feb16Lines},
{key:'23-feb-to-1-mar',col:1,row:2,fills:feb23Fills,lines:feb23Lines},
{key:'2-mar-to-8-mar',col:1,row:3,fills:mar2Fills,lines:mar2Lines}
];

/* ---------- drawing ---------- */
const NS = 'http://www.w3.org/2000/svg';
const LON_SCALE = 3.533, LAT_SCALE = 3.525;
const FRAME_W = 636, FRAME_H = 141;
function leftOf(col){ return col === 0 ? 101 : 843.5; }
function topOf(row){ return 39 + row * 225; }
function make(tag, attrs, parent){
  const el = document.createElementNS(NS, tag);
  for (const k in attrs) el.setAttribute(k, attrs[k]);
  parent.appendChild(el);
  return el;
}
function spline(points, closed){
  const n = points.length;
  const at = i => closed ? points[(i + n) % n] : points[Math.max(0, Math.min(n - 1, i))];
  let d = 'M' + points[0][0].toFixed(1) + ' ' + points[0][1].toFixed(1);
  const last = closed ? n : n - 1;
  for (let i = 0; i < last; i++) {
    const p0 = at(i - 1), p1 = at(i), p2 = at(i + 1), p3 = at(i + 2);
    const len = Math.hypot(p2[0] - p1[0], p2[1] - p1[1]);
    const t1 = [(p2[0] - p0[0]) / 6, (p2[1] - p0[1]) / 6];
    const t2 = [(p3[0] - p1[0]) / 6, (p3[1] - p1[1]) / 6];
    const k1 = Math.min(1, 0.4 * len / (Math.hypot(t1[0], t1[1]) || 1));
    const k2 = Math.min(1, 0.4 * len / (Math.hypot(t2[0], t2[1]) || 1));
    d += 'C' + (p1[0] + t1[0] * k1).toFixed(1) + ' ' + (p1[1] + t1[1] * k1).toFixed(1) + ' ' +
         (p2[0] - t2[0] * k2).toFixed(1) + ' ' + (p2[1] - t2[1] * k2).toFixed(1) + ' ' +
         p2[0].toFixed(1) + ' ' + p2[1].toFixed(1);
  }
  return d + (closed ? 'Z' : '');
}

const panelsRoot = document.getElementById('panels');
const defs = document.getElementById('defs');

panelList.forEach(function(panel, index){
  const left = leftOf(panel.col), top = topOf(panel.row);
  const xAxis = lon => left + (lon + 90) * LON_SCALE;
  const yAxis = lat => top + (30 - lat) * LAT_SCALE;
  const project = pts => pts.map(p => [xAxis(p[0]), yAxis(p[1])]);

  const group = make('g', {}, panelsRoot);
  
  

  const clip = make('clipPath', {id: 'clip' + index}, defs);
  make('rect', {x: left, y: top, width: FRAME_W, height: FRAME_H}, clip);

  const plot = make('g', {'clip-path': 'url(#clip' + index + ')'}, group);
  
  

  const bg = make('rect', {x: left, y: top, width: FRAME_W, height: FRAME_H, fill: levelColors['0']}, plot);
  
  

  panel.fills.forEach(function(fill){
    const shape = make('path', {d: spline(project(fill[1]), true), fill: levelColors[String(fill[0])]}, plot);
    
    
  });

  const mapD = coastlines.concat(borders).map(function(line){
    return 'M' + project(line).map(p => p[0].toFixed(1) + ' ' + p[1].toFixed(1)).join('L');
  }).join('');
  const geo = make('path', {d: mapD, fill: 'none', stroke: '#636363', 'stroke-width': 1.7, 'stroke-linejoin': 'round'}, plot);
  
  

  equatorOcean.forEach(function(seg){
    const eq = make('line', {x1: xAxis(seg[0]), x2: xAxis(seg[1]), y1: yAxis(0), y2: yAxis(0), stroke: '#444', 'stroke-width': 1.5, 'stroke-dasharray': '6 4.5'}, plot);
    
    
  });
  const meridian = make('line', {x1: xAxis(0), x2: xAxis(0), y1: yAxis(meridianSpan[0]), y2: yAxis(meridianSpan[1]), stroke: '#444', 'stroke-width': 1.5, 'stroke-dasharray': '6 4.5'}, plot);
  
  

  panel.lines.forEach(function(item){
    const curve = make('path', {d: spline(project(item[1]), false), fill: 'none', stroke: lineColors[item[0]], 'stroke-width': 2, 'stroke-linejoin': 'round'}, plot);
    
    
  });

  const frame = make('rect', {x: left, y: top, width: FRAME_W, height: FRAME_H, fill: 'none', stroke: '#000', 'stroke-width': 3.2}, group);
  
  

  let tickD = '', minorD = '';
  for (let lon = -90; lon <= 90; lon += 10) {
    const isMajor = lonTicks.indexOf(lon) >= 0;
    const len = isMajor ? 6 : 3;
    const s = 'M' + xAxis(lon).toFixed(1) + ' ' + top + 'v' + (-len) + 'M' + xAxis(lon).toFixed(1) + ' ' + (top + FRAME_H) + 'v' + len;
    if (isMajor) tickD += s; else minorD += s;
  }
  for (let lat = -10; lat <= 30; lat += 2) {
    const isMajor = lat % 10 === 0;
    const len = isMajor ? 5 : 2.5;
    const s = 'M' + left + ' ' + yAxis(lat).toFixed(1) + 'h' + (-len) + 'M' + (left + FRAME_W) + ' ' + yAxis(lat).toFixed(1) + 'h' + len;
    if (isMajor) tickD += s; else minorD += s;
  }
  const majorTicks = make('path', {d: tickD, stroke: '#000', 'stroke-width': 2.2, fill: 'none'}, group);
  
  
  const minorTicks = make('path', {d: minorD, stroke: '#000', 'stroke-width': 1.2, fill: 'none'}, group);
  
  

  if (panel.col === 0) {
    latTicks.forEach(function(lat, i){
      const label = make('text', {x: 74, y: yAxis(lat) + 12, 'font-size': 34.5, 'text-anchor': 'end'}, group);
      label.textContent = latLabels[i];
      
      
    });
  }
  if (panel.row === 3) {
    lonTicks.forEach(function(lon, i){
      const label = make('text', {x: xAxis(lon), y: 911, 'font-size': 34.5, 'text-anchor': 'middle'}, group);
      label.textContent = lonLabels[i];
      
      
    });
  }
});

/* ---------- colour bar ---------- */
const barRoot = document.getElementById('colorbar');
const BAR_LEFT = 229.5, BAR_CELL = 54.9, BAR_TOP = 972, BAR_H = 22;
colorbarLevels.forEach(function(level, i){
  const cell = make('rect', {x: BAR_LEFT + i * BAR_CELL, y: BAR_TOP, width: BAR_CELL, height: BAR_H, fill: levelColors[String(level)], stroke: '#222', 'stroke-width': 1.4}, barRoot);
  
  
});
colorbarLabels.forEach(function(text, i){
  const label = make('text', {x: BAR_LEFT + (i + 1) * BAR_CELL + 0.5, y: 1023, 'font-size': 28.5, 'text-anchor': 'middle'}, barRoot);
  label.textContent = text;
  
  
});
</script>
</body>
</html>
